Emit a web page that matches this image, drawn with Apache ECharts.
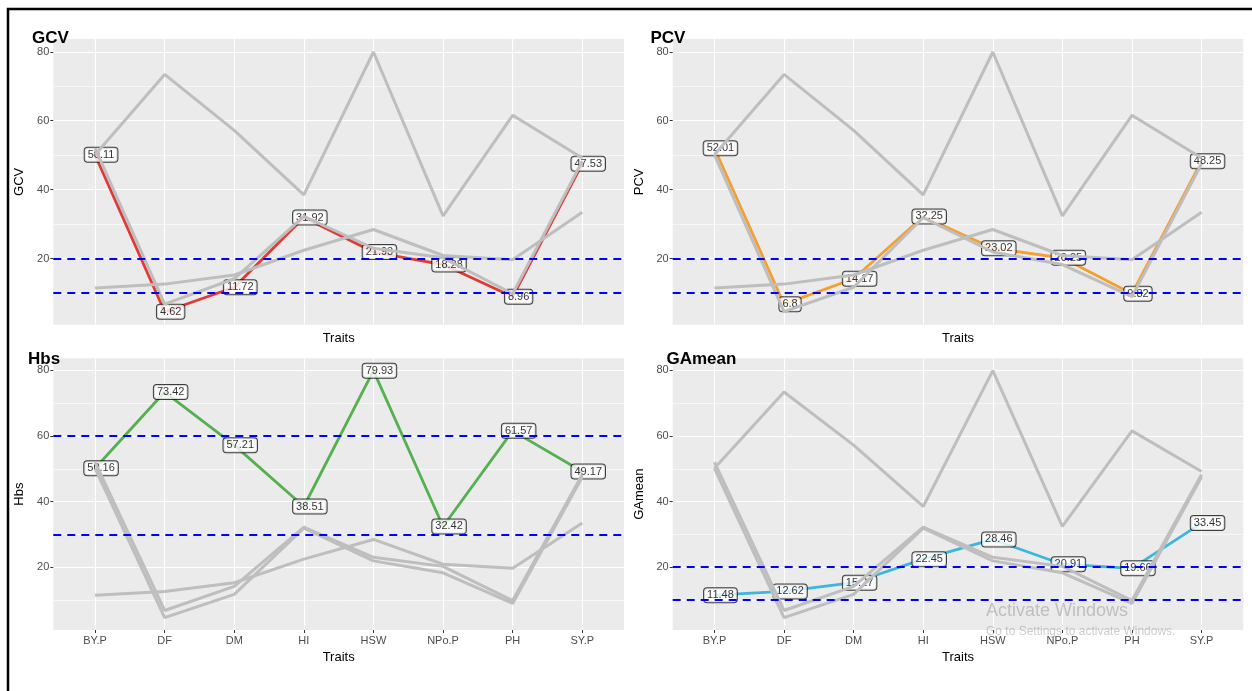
<!DOCTYPE html>
<html><head><meta charset="utf-8">
<script src="https://cdn.jsdelivr.net/npm/echarts@6/dist/echarts.min.js"></script>
<style>html,body{margin:0;padding:0;background:#fff}#c{width:1252px;height:691px}</style>
</head><body><div id="c"></div>
<script>
// ---- data ----
const traits = ['BY.P', 'DF', 'DM', 'HI', 'HSW', 'NPo.P', 'PH', 'SY.P'];
const GCV    = [50.11, 4.62, 11.72, 31.92, 21.93, 18.28, 8.96, 47.53];
const PCV    = [52.01, 6.8, 14.17, 32.25, 23.02, 20.25, 9.82, 48.25];
const Hbs    = [50.16, 73.42, 57.21, 38.51, 79.93, 32.42, 61.57, 49.17];
const GAmean = [11.48, 12.62, 15.27, 22.45, 28.46, 20.91, 19.66, 33.45];
const yTickValues  = [20, 40, 60, 80];
const yMinorValues = [10, 30, 50, 70];
const thrGCV = [10, 20];
const thrPCV = [10, 20];
const thrHbs = [30, 60];
const thrGAmean = [10, 20];
const Y_MIN = 0.85, Y_MAX = 83.7;   // ggplot-expanded range
const X_MIN = -0.6, X_MAX = 7.6;    // discrete expansion

const seriesByName = { GCV: GCV, PCV: PCV, Hbs: Hbs, GAmean: GAmean };
const order = ['GCV', 'PCV', 'Hbs', 'GAmean'];
const FONT = '"Liberation Sans", Arial, sans-serif';

// ---- layout / style ----
const panels = [
  { name: 'GCV',    color: '#DF3B34', thr: thrGCV,    left: 53.3,  top: 39,    width: 570.7, height: 285.7, showX: false, tx: 32,    ty: 30 },
  { name: 'PCV',    color: '#F5A02E', thr: thrPCV,    left: 672.7, top: 39,    width: 570.6, height: 285.7, showX: false, tx: 650.5, ty: 30 },
  { name: 'Hbs',    color: '#55B04F', thr: thrHbs,    left: 53.3,  top: 358.3, width: 570.7, height: 271.7, showX: true,  tx: 28,    ty: 350.5 },
  { name: 'GAmean', color: '#3DB6DD', thr: thrGAmean, left: 672.7, top: 358.3, width: 570.6, height: 271.7, showX: true,  tx: 666.5, ty: 351 }
];

const xIdx = traits.map((_, k) => k);
const grids = [], xAxes = [], yAxes = [], series = [], graphics = [];

panels.forEach((p, i) => {
  grids.push({ left: p.left, top: p.top, width: p.width, height: p.height, show: true,
    backgroundColor: '#EBEBEB', borderWidth: 0 });
  xAxes.push({
    type: 'value', gridIndex: i, min: X_MIN, max: X_MAX,
    axisLine: { show: false },
    axisTick: { show: p.showX, customValues: xIdx, length: 3, lineStyle: { color: '#333', width: 1 } },
    axisLabel: { show: p.showX, customValues: xIdx, formatter: v => traits[Math.round(v)], color: '#4D4D4D', fontSize: 11, margin: 5, fontFamily: FONT },
    splitLine: { show: true, lineStyle: { color: '#FFFFFF', width: 1.1 } },
    name: 'Traits', nameLocation: 'middle', nameGap: p.showX ? 21 : 7,
    nameTextStyle: { color: '#000', fontSize: 13, fontFamily: FONT }
  });
  // minor grid axis
  yAxes.push({
    type: 'value', gridIndex: i, min: Y_MIN, max: Y_MAX, position: 'left',
    axisLine: { show: false },
    axisTick: { show: false, customValues: yMinorValues },
    axisLabel: { show: false, customValues: yMinorValues },
    splitLine: { show: true, lineStyle: { color: '#FFFFFF', width: 0.6 } }
  });
  // major axis
  yAxes.push({
    type: 'value', gridIndex: i, min: Y_MIN, max: Y_MAX, position: 'left',
    axisLine: { show: false },
    axisTick: { show: true, customValues: yTickValues, length: 3, lineStyle: { color: '#333', width: 1 } },
    axisLabel: { show: true, customValues: yTickValues, color: '#4D4D4D', fontSize: 11, margin: 4, fontFamily: FONT },
    splitLine: { show: true, lineStyle: { color: '#FFFFFF', width: 1.1 } },
    name: p.name, nameLocation: 'middle', nameGap: 27,
    nameTextStyle: { color: '#000', fontSize: 13, fontFamily: FONT }
  });

  const vals = seriesByName[p.name];
  const pts = vals.map((v, k) => [k, v]);
  const yi = 2 * i + 1;

  series.push({ type: 'line', xAxisIndex: i, yAxisIndex: yi, data: pts, symbol: 'none', silent: true,
    lineStyle: { color: p.color, width: 2.8 }, z: 2 });

  series.push({ type: 'scatter', xAxisIndex: i, yAxisIndex: yi, data: pts, symbolSize: 0.1, silent: true,
    itemStyle: { color: 'rgba(0,0,0,0)' }, z: 3,
    label: { show: true, position: 'inside', offset: [6, 0], formatter: q => String(q.value[1]),
      backgroundColor: '#FFFFFF', borderColor: '#111', borderWidth: 1, borderRadius: 3,
      padding: [2, 3, 1, 3], fontSize: 11, color: '#000', fontFamily: FONT } });

  order.filter(n => n !== p.name).forEach(n => {
    series.push({ type: 'line', xAxisIndex: i, yAxisIndex: yi, data: seriesByName[n].map((v, k) => [k, v]),
      symbol: 'none', silent: true, lineStyle: { color: '#BEBEBE', width: 3 }, z: 4 });
  });

  series.push({ type: 'line', xAxisIndex: i, yAxisIndex: yi, data: pts, symbol: 'none', silent: true,
    lineStyle: { opacity: 0 }, z: 5,
    markLine: { symbol: 'none', silent: true, label: { show: false }, animation: false,
      lineStyle: { color: '#0000FF', type: [8, 6], width: 1.8 },
      data: p.thr.map(t => ({ yAxis: t })) } });

  graphics.push({ type: 'text', left: p.tx, top: p.ty, z: 10,
    style: { text: p.name, font: 'bold 17px ' + FONT, fill: '#000' } });
});

graphics.push({ type: 'text', left: 986, top: 602, z: 10,
  style: { text: 'Activate Windows', font: '18px ' + FONT, fill: 'rgba(110,110,110,0.35)' } });
graphics.push({ type: 'text', left: 986, top: 626, z: 10,
  style: { text: 'Go to Settings to activate Windows.', font: '12px ' + FONT, fill: 'rgba(110,110,110,0.35)' } });
graphics.push({ type: 'rect', z: 20, silent: true,
  shape: { x: 8, y: 9, width: 1400, height: 900 },
  style: { fill: 'none', stroke: '#000', lineWidth: 2.5 } });

const chart = echarts.init(document.getElementById('c'), null, { renderer: 'canvas' });
chart.setOption({
  animation: false,
  backgroundColor: '#FFFFFF',
  textStyle: { fontFamily: FONT },
  grid: grids, xAxis: xAxes, yAxis: yAxes, series: series, graphic: graphics
});
</script></body></html>
